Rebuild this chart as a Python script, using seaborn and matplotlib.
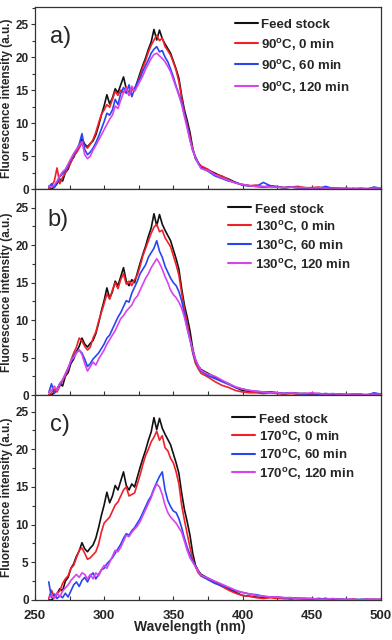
import matplotlib
matplotlib.use("Agg")
import matplotlib.pyplot as plt
import numpy as np
import pandas as pd
import seaborn as sns
from matplotlib.ticker import MultipleLocator

# wavelength grid (nm)
wavelength = [
    260, 262, 264, 266, 268, 270, 272, 274, 276, 278, 280, 282, 284, 286,
    288, 290, 292, 294, 296, 298, 300, 302, 304, 306, 308, 310, 312, 314,
    316, 318, 320, 322, 324, 326, 328, 330, 332, 334, 336, 338, 340, 342,
    344, 346, 348, 350, 352, 354, 356, 358, 360, 362, 364, 366, 368, 370,
    375, 380, 385, 390, 395, 400, 405, 410, 415, 420, 425, 430, 435, 440,
    445, 450, 455, 460, 465, 470, 475, 480, 485, 490, 495, 500,
]

feed_stock = [
    0.0, 0.0, 0.3, 0.8, 1.5, 1.2, 2.5, 3.0, 4.2, 4.8, 5.8, 6.5, 7.6, 6.8,
    6.4, 6.9, 7.3, 8.2, 9.6, 11.2, 12.6, 14.3, 12.9, 13.8, 15.2, 14.6, 15.8, 17.0,
    15.2, 14.6, 15.4, 15.0, 16.3, 17.6, 18.8, 19.9, 21.2, 22.3, 24.2, 22.6, 24.1, 22.8,
    22.0, 21.3, 20.6, 19.4, 18.2, 16.8, 14.2, 12.0, 10.4, 8.6, 6.2, 4.6, 3.9, 3.4,
    2.9, 2.4, 1.9, 1.5, 1.0, 0.6, 0.5, 0.4, 0.3, 0.4, 0.3, 0.2, 0.3, 0.2,
    0.2, 0.1, 0.2, 0.1, 0.1, 0.1, 0.0, 0.1, 0.0, 0.0, 0.1, 0.0,
]

t90_0 = [
    0.0, 0.5, 1.2, 3.2, 0.8, 1.8, 2.4, 3.3, 4.0, 5.0, 5.5, 6.2, 7.0, 6.6,
    6.2, 6.8, 7.5, 8.6, 10.0, 11.3, 12.0, 12.8, 12.4, 13.6, 14.8, 14.2, 15.0, 14.6,
    15.5, 14.2, 15.0, 15.3, 16.0, 17.2, 18.5, 19.5, 20.8, 21.8, 22.6, 23.3, 22.5, 22.9,
    21.6, 21.0, 20.3, 19.2, 18.0, 16.3, 13.8, 11.5, 9.8, 8.0, 6.0, 4.8, 4.0, 3.5,
    3.0, 2.2, 2.0, 1.4, 0.9, 0.7, 0.5, 0.6, 0.3, 0.5, 0.4, 0.2, 0.3, 0.4,
    0.2, 0.2, 0.3, 0.1, 0.2, 0.1, 0.1, 0.0, 0.1, 0.0, 0.0, 0.1,
]
t90_60 = [
    0.3, 0.8, 0.2, 1.0, 1.9, 2.3, 2.8, 3.6, 4.5, 5.2, 5.9, 6.8, 8.4, 6.0,
    5.2, 5.6, 6.2, 7.0, 8.0, 9.1, 10.2, 11.5, 11.2, 12.0, 13.6, 12.8, 14.5, 15.4,
    14.5, 15.8, 14.0, 15.2, 16.2, 16.8, 17.9, 18.8, 19.6, 20.6, 21.2, 21.6, 20.8, 21.0,
    20.0, 19.3, 18.2, 17.0, 15.6, 14.4, 13.2, 11.3, 9.6, 7.5, 5.8, 4.9, 4.0, 3.2,
    2.7, 2.0, 1.6, 1.2, 1.0, 0.6, 0.5, 0.4, 1.0, 0.5, 0.3, 0.2, 0.3, 0.2,
    0.1, 0.2, 0.1, 0.4, 0.1, 0.0, 0.1, 0.0, 0.1, 0.0, 0.3, 0.1,
]
t90_120 = [
    0.5, 0.3, 0.6, 1.2, 2.0, 2.6, 3.0, 3.8, 4.6, 5.4, 6.0, 6.6, 7.2, 5.2,
    4.6, 5.0, 5.9, 6.6, 7.4, 8.2, 9.0, 9.8, 10.6, 11.2, 12.6, 12.2, 13.5, 14.6,
    15.3, 14.2, 15.6, 14.8, 15.6, 16.4, 17.2, 18.2, 19.0, 19.8, 20.4, 20.6, 20.2, 19.8,
    19.3, 18.6, 17.8, 16.6, 15.4, 14.2, 12.8, 11.0, 9.2, 7.4, 5.9, 4.8, 3.8, 3.1,
    2.8, 2.2, 1.7, 1.3, 0.9, 0.7, 0.5, 0.4, 0.4, 0.3, 0.3, 0.2, 0.3, 0.2,
    0.2, 0.1, 0.2, 0.1, 0.1, 0.1, 0.1, 0.0, 0.1, 0.1, 0.1, 0.2,
]

t130_0 = [
    0.0, 0.3, 0.8, 0.4, 1.2, 2.0, 2.6, 3.4, 4.6, 5.6, 6.4, 7.6, 7.2, 6.5,
    6.0, 6.4, 7.6, 8.4, 9.8, 11.0, 12.2, 13.5, 12.8, 14.0, 15.0, 14.2, 15.4, 16.2,
    14.8, 15.2, 14.6, 15.4, 16.0, 17.2, 18.6, 19.6, 20.6, 21.6, 22.4, 22.8, 21.8, 22.0,
    21.0, 20.4, 19.8, 18.6, 17.4, 16.0, 13.6, 11.4, 9.6, 7.6, 5.6, 4.2, 3.5, 2.9,
    2.4, 1.8, 1.3, 1.0, 0.6, 0.4, 0.3, 0.3, 0.2, 0.3, 0.2, 0.1, 0.2, 0.1,
    0.2, 0.1, 0.1, 0.1, 0.0, 0.1, 0.1, 0.0, 0.1, 0.0, 0.0, 0.1,
]
t130_60 = [
    0.3, 1.5, 0.2, 0.8, 1.4, 2.0, 2.8, 3.6, 4.4, 5.2, 5.8, 6.0, 5.6, 4.8,
    3.8, 4.2, 4.8, 5.2, 5.6, 6.2, 6.8, 7.6, 8.0, 8.8, 9.6, 10.4, 11.0, 11.8,
    12.6, 12.4, 13.6, 14.4, 15.2, 16.2, 16.8, 17.4, 18.4, 19.0, 19.6, 20.6, 19.2, 18.4,
    17.2, 16.4, 15.6, 15.0, 14.6, 13.8, 12.6, 10.8, 9.0, 7.4, 5.8, 4.6, 3.8, 3.2,
    2.6, 2.2, 1.8, 1.4, 1.0, 0.8, 0.6, 0.5, 0.4, 0.4, 0.3, 0.2, 0.3, 0.2,
    0.1, 0.2, 0.1, 0.2, 0.1, 0.1, 0.0, 0.1, 0.1, 0.0, 0.3, 0.1,
]
t130_120 = [
    0.4, 0.6, 1.2, 0.6, 1.6, 2.0, 2.8, 3.6, 4.6, 5.0, 5.6, 6.0, 5.4, 4.2,
    3.2, 3.8, 4.4, 4.0, 4.8, 5.4, 6.0, 6.8, 7.4, 8.0, 8.6, 9.4, 10.2, 10.6,
    11.2, 11.6, 12.0, 12.8, 13.2, 14.0, 14.8, 15.6, 16.2, 17.0, 17.6, 18.2, 17.6, 16.8,
    15.8, 15.0, 14.0, 13.4, 13.0, 12.4, 11.6, 10.4, 8.8, 7.4, 6.0, 4.8, 3.9, 3.3,
    2.8, 2.5, 2.0, 1.5, 1.1, 0.8, 0.6, 0.5, 0.4, 0.3, 0.3, 0.2, 0.3, 0.2,
    0.2, 0.3, 0.2, 0.1, 0.2, 0.1, 0.1, 0.1, 0.0, 0.1, 0.1, 0.1,
]

t170_0 = [
    0.2, 1.3, 0.4, 0.9, 1.2, 2.2, 2.8, 3.2, 4.2, 4.6, 5.6, 6.6, 6.9, 6.2,
    5.4, 5.6, 6.0, 6.4, 7.4, 9.0, 10.2, 10.6, 11.0, 11.8, 12.6, 13.0, 13.8, 14.6,
    15.0, 13.8, 14.0, 14.2, 15.4, 16.6, 18.0, 19.2, 20.0, 21.0, 21.6, 22.4, 21.2, 21.8,
    20.2, 19.8, 18.8, 18.2, 17.0, 15.4, 12.6, 10.6, 8.8, 7.0, 5.4, 4.4, 3.6, 3.2,
    2.8, 2.3, 1.8, 1.3, 0.9, 0.6, 0.5, 0.3, 0.2, 0.3, 0.2, 0.2, 0.1, 0.2,
    0.1, 0.1, 0.1, 0.2, 0.0, 0.1, 0.0, 0.1, 0.0, 0.1, 0.0, 0.1,
]
t170_60 = [
    2.4, 0.3, 0.8, 0.2, 0.6, 0.3, 0.9, 0.4, 1.2, 2.0, 2.4, 1.8, 2.6, 3.0,
    2.4, 3.2, 3.6, 2.8, 3.4, 4.0, 4.2, 4.8, 5.2, 5.6, 6.2, 6.8, 7.4, 8.2,
    8.8, 8.6, 9.2, 9.6, 10.2, 10.8, 11.6, 12.4, 13.2, 13.8, 14.8, 15.6, 16.4, 17.0,
    14.6, 13.2, 12.4, 11.8, 11.6, 10.8, 9.6, 8.2, 7.0, 6.0, 5.2, 4.5, 3.8, 3.2,
    2.7, 2.2, 1.9, 1.6, 1.2, 1.0, 0.8, 0.7, 0.5, 0.4, 0.4, 0.3, 0.3, 0.2,
    0.2, 0.2, 0.1, 0.2, 0.1, 0.1, 0.1, 0.0, 0.1, 0.1, 0.0, 0.1,
]
t170_120 = [
    0.3, 0.6, 0.2, 0.9, 0.4, 1.2, 1.6, 2.0, 2.6, 3.0, 3.4, 3.0, 3.6, 3.4,
    2.8, 3.4, 2.8, 3.6, 3.2, 4.0, 4.6, 4.2, 5.0, 5.8, 6.6, 6.4, 7.0, 7.8,
    8.6, 8.4, 9.0, 9.4, 9.8, 10.4, 11.2, 12.0, 12.8, 13.6, 14.6, 15.4, 15.0, 14.0,
    12.6, 11.6, 11.0, 10.6, 10.2, 9.6, 9.0, 7.8, 6.6, 5.6, 5.0, 4.4, 3.8, 3.3,
    2.9, 2.5, 2.1, 1.7, 1.3, 1.0, 0.8, 0.6, 0.5, 0.4, 0.4, 0.3, 0.3, 0.2,
    0.2, 0.2, 0.1, 0.1, 0.2, 0.1, 0.1, 0.1, 0.0, 0.1, 0.1, 0.1,
]

temperatures = ["90", "130", "170"]
panel_letters = ["a)", "b)", "c)"]
treated = [
    [t90_0, t90_60, t90_120],
    [t130_0, t130_60, t130_120],
    [t170_0, t170_60, t170_120],
]
times = ["0 min", "60 min", "120 min"]
colors = ["#111111", "#f0202a", "#2846f0", "#d744ee"]

sns.set_style("ticks")
plt.rcParams["font.family"] = ["Liberation Sans", "DejaVu Sans"]
plt.rcParams["mathtext.fontset"] = "custom"
plt.rcParams["mathtext.bf"] = "Liberation Sans:bold"
plt.rcParams["mathtext.rm"] = "Liberation Sans"

fig = plt.figure(figsize=(3.92, 6.4), dpi=100)
gs = fig.add_gridspec(
    3, 1, height_ratios=[182, 206, 205], hspace=0,
    left=0.089, right=0.972, top=0.989, bottom=0.0625,
)

ylims = [27.6, 27.5, 27.2]
label_spacing = [0.41, 0.22, 0.2]
legend_anchor = [(0.563, 0.975), (0.543, 0.964), (0.555, 0.944)]
letter_pos = [(0.075, 0.835), (0.066, 0.85), (0.072, 0.854)]

for i, temp in enumerate(temperatures):
    ax = fig.add_subplot(gs[i])
    labels = ["Feed stock"] + [f"{temp}$^{{\\mathbf{{o}}}}$C, {t}" for t in times]
    series = [feed_stock] + treated[i]
    df = pd.concat(
        [pd.DataFrame({"wavelength": wavelength, "intensity": s, "sample": lab})
         for s, lab in zip(series, labels)],
        ignore_index=True,
    )
    sns.lineplot(
        data=df, x="wavelength", y="intensity", hue="sample",
        palette=dict(zip(labels, colors)), hue_order=labels,
        linewidth=1.2, sort=False, ax=ax,
    )
    ax.set_xlim(250, 500)
    ax.set_ylim(0, ylims[i])
    ax.xaxis.set_major_locator(MultipleLocator(50))
    ax.xaxis.set_minor_locator(MultipleLocator(25))
    ax.yaxis.set_major_locator(MultipleLocator(5))
    ax.yaxis.set_minor_locator(MultipleLocator(2.5))
    ax.tick_params(axis="x", which="both", direction="in", length=3, width=0.8,
                   color="#333333", labelsize=9.5, pad=7)
    ax.tick_params(axis="y", which="major", direction="out", length=3, width=0.8,
                   color="#333333", labelsize=8.5, pad=1.5)
    ax.tick_params(axis="y", which="minor", direction="out", length=2, width=0.8,
                   color="#333333")
    for lab in ax.get_xticklabels() + ax.get_yticklabels():
        lab.set_fontweight("bold")
    for side in ["top", "right", "left", "bottom"]:
        ax.spines[side].set_visible(True)
        ax.spines[side].set_color("#333333")
        ax.spines[side].set_linewidth(0.9)
    ax.set_ylabel("Fluorescence intensity (a.u.)", fontsize=8.5,
                  fontweight="bold", labelpad=2)
    if i < 2:
        ax.tick_params(axis="x", labelbottom=False)
        ax.set_xlabel("")
    else:
        ax.set_xlabel("Wavelength (nm)", fontsize=10, fontweight="bold")
        ax.xaxis.set_label_coords(0.448, -0.1)

    ax.text(letter_pos[i][0], letter_pos[i][1], panel_letters[i],
            transform=ax.transAxes, fontsize=17, va="center", ha="center")

    leg = ax.legend(
        loc="upper left", bbox_to_anchor=legend_anchor[i], frameon=False,
        handlelength=1.75, handleheight=1.25, handletextpad=0.25,
        labelspacing=label_spacing[i],
        borderaxespad=0.0, prop={"weight": "bold", "size": 9.5},
    )
    for line in leg.get_lines():
        line.set_linewidth(1.5)

fig.savefig("out.png", dpi=100)
